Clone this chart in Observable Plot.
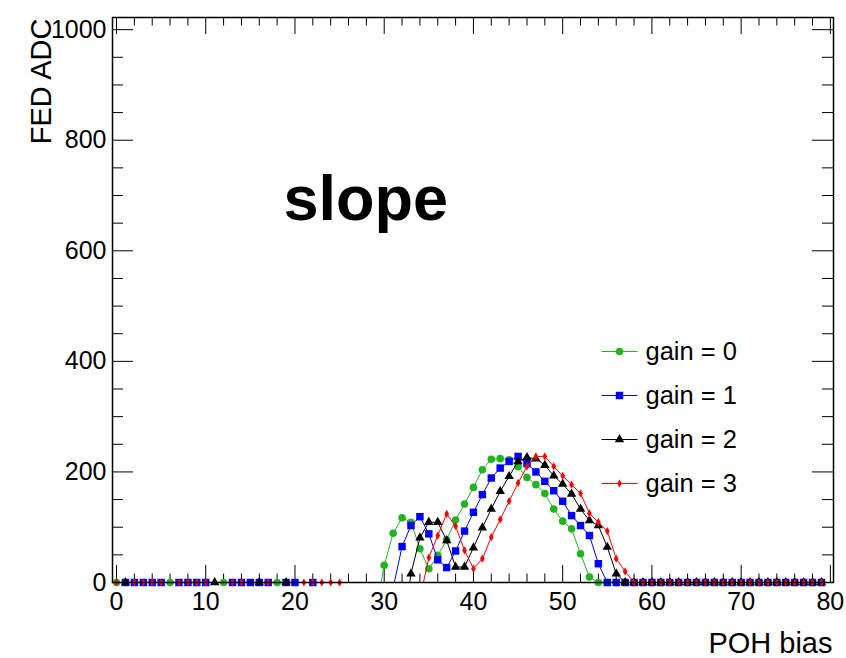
<!DOCTYPE html>
<html><head><meta charset="utf-8">
<script src="https://cdn.jsdelivr.net/npm/d3@7"></script>
<script src="https://cdn.jsdelivr.net/npm/@observablehq/plot@0.6"></script>
<style>body{margin:0;background:#fff;}</style>
</head><body><div id="chart"></div>
<script>
// POH bias scan points
const pohBias = [0,1,2,3,4,5,6,7,8,9,10,11,12,13,14,15,16,17,18,19,20,21,22,23,24,25,26,27,28,29,
  30,31,32,33,34,35,36,37,38,39,40,41,42,43,44,45,46,47,48,49,50,51,52,53,54,55,56,57,58,59,
  60,61,62,63,64,65,66,67,68,69,70,71,72,73,74,75,76,77,78,79];
// FED ADC per gain (negative = below the frame, not drawn)
const gain0 = [0,-20,-20,-20,-20,-20,0,-20,-20,-20,-20,-20,0,-20,-20,-20,-20,-20,0,-20,-20,-20,-20,-20,-20,-20,-20,-20,-20,-60,
  31,89,117,109,61,25,49,77,113,142,172,204,223,224,222,210,190,177,161,133,111,97,52,10,0,0,0,0,0,0,
  0,0,0,0,0,0,0,0,0,0,0,0,0,0,0,0,0,0,0,0];
const gain1 = [-20,0,0,0,0,0,-20,0,0,0,0,-20,-20,0,0,0,0,0,-20,0,0,-20,0,-20,-20,-20,-20,-20,-20,-20,
  -20,-10,65,103,119,88,41,27,57,93,127,159,189,207,219,228,215,200,183,166,147,121,103,85,34,0,0,0,0,0,
  0,0,0,0,0,0,0,0,0,0,0,0,0,0,0,0,0,0,0,0];
const gain2 = [-20,0,-20,-20,-20,-20,-20,-20,-20,-20,-20,0,-20,-20,-20,-20,0,-20,-20,0,-20,-20,-20,-20,-20,-20,-20,-20,-20,-20,
  -20,-20,-100,16,81,109,109,76,28,28,63,99,133,165,192,219,226,224,212,193,178,160,133,112,103,64,16,0,0,0,
  0,0,0,0,0,0,0,0,0,0,0,0,0,0,0,0,0,0,0,0];
const gain3 = [0,-20,0,0,0,0,-20,0,0,0,0,-20,-20,0,0,-20,-20,0,-20,-20,-20,0,0,0,0,0,-20,-20,-20,-20,
  -20,-20,-20,-20,-30,45,85,124,102,58,25,43,82,114,147,180,210,228,228,210,193,177,161,125,109,93,43,20,0,0,
  0,0,0,0,0,0,0,0,0,0,0,0,0,0,0,0,0,0,0,0];

const seriesNames = ["gain = 0", "gain = 1", "gain = 2", "gain = 3"];
const seriesColors = ["#22b322", "#0000ff", "#000000", "#ff0000"];
const seriesSymbols = ["circle", "square", "triangle", "diamond"];
const seriesR = [3.8, 4.2, 3.5, 2.5];

const xMajorTicks = [0,10,20,30,40,50,60,70,80];
const xMinorTicks = [2,4,6,8,12,14,16,18,22,24,26,28,32,34,36,38,42,44,46,48,52,54,56,58,62,64,66,68,72,74,76,78];
const yMajorTicks = [0,200,400,600,800,1000];
const yMinorTicks = [50,100,150,250,300,350,450,500,550,650,700,750,850,900,950];

const xTitle = "POH bias";
const yTitle = "FED ADC";
const plotLabel = "slope";

const W = 846, H = 658, mL = 112, mR = 13, mT = 17, mB = 76;
const innerW = W - mL - mR, innerH = H - mT - mB;
const font = "'Liberation Sans', Arial, Helvetica, sans-serif";

const series = [gain0, gain1, gain2, gain3].map((vals, i) =>
  vals.map((v, j) => ({poh: pohBias[j], adc: v, gain: seriesNames[i]})));

const marks = [];
// ticks (inward, on all four sides)
marks.push(Plot.ruleX(xMajorTicks, {x: d => d, insetTop: innerH - 17, stroke: "black"}));
marks.push(Plot.ruleX(xMinorTicks, {x: d => d, insetTop: innerH - 8.5, stroke: "black"}));
marks.push(Plot.ruleX(xMajorTicks, {x: d => d, insetBottom: innerH - 17, stroke: "black"}));
marks.push(Plot.ruleX(xMinorTicks, {x: d => d, insetBottom: innerH - 8.5, stroke: "black"}));
marks.push(Plot.ruleY(yMajorTicks, {y: d => d, insetRight: innerW - 21, stroke: "black"}));
marks.push(Plot.ruleY(yMinorTicks, {y: d => d, insetRight: innerW - 11, stroke: "black"}));
marks.push(Plot.ruleY(yMajorTicks, {y: d => d, insetLeft: innerW - 21, stroke: "black"}));
marks.push(Plot.ruleY(yMinorTicks, {y: d => d, insetLeft: innerW - 11, stroke: "black"}));

// data
series.forEach((rows, i) => {
  marks.push(Plot.line(rows, {x: "poh", y: "adc", stroke: seriesColors[i], strokeWidth: 1, clip: true}));
  marks.push(Plot.dot(rows, {filter: d => d.adc >= 0, x: "poh", y: "adc", symbol: seriesSymbols[i],
    r: seriesR[i], fill: seriesColors[i], stroke: "none"}));
});

marks.push(Plot.frame({stroke: "black", strokeWidth: 1.5}));

// tick labels
marks.push(Plot.text(xMajorTicks, {x: d => d, frameAnchor: "bottom", dy: 10, lineAnchor: "top",
  text: d => String(d), fontSize: 25, fill: "black"}));
marks.push(Plot.text(yMajorTicks, {y: d => d, frameAnchor: "left", dx: -6, textAnchor: "end",
  lineAnchor: "middle", text: d => String(d), fontSize: 25, fill: "black"}));

// axis titles
marks.push(Plot.text([xTitle], {frameAnchor: "bottom-right", dx: -1, dy: 70, textAnchor: "end",
  lineAnchor: "bottom", text: d => d, fontSize: 29, fill: "black"}));
marks.push(Plot.text([yTitle], {frameAnchor: "top-left", rotate: -90, dx: -62, dy: 1, textAnchor: "end",
  lineAnchor: "bottom", text: d => d, fontSize: 29, fill: "black"}));

// big label
marks.push(Plot.text([plotLabel], {frameAnchor: "top-left", dx: 171, dy: 202, textAnchor: "start",
  lineAnchor: "bottom", text: d => d, fontSize: 63, fontWeight: "bold", fill: "black"}));

// legend
const lineSymbol = {draw(ctx) { ctx.moveTo(-18, 0); ctx.lineTo(18, 0); }};
seriesNames.forEach((name, i) => {
  const dy = 334 + i * 44;
  marks.push(Plot.dot([name], {frameAnchor: "top-left", dx: 507, dy, symbol: lineSymbol, r: 5,
    fill: "none", stroke: seriesColors[i], strokeWidth: 1}));
  marks.push(Plot.dot([name], {frameAnchor: "top-left", dx: 507, dy, symbol: seriesSymbols[i],
    r: seriesR[i], fill: seriesColors[i], stroke: "none"}));
  marks.push(Plot.text([name], {frameAnchor: "top-left", dx: 533, dy, textAnchor: "start",
    lineAnchor: "middle", text: d => d, fontSize: 25.5, fill: "black"}));
});

const chart = Plot.plot({
  width: W, height: H,
  marginLeft: mL, marginRight: mR, marginTop: mT, marginBottom: mB,
  x: {domain: [-0.45, 80.35], axis: null},
  y: {domain: [0, 1022], axis: null},
  style: {fontFamily: font, background: "white", overflow: "visible"},
  marks
});
document.getElementById("chart").appendChild(chart);
</script>
</body></html>
